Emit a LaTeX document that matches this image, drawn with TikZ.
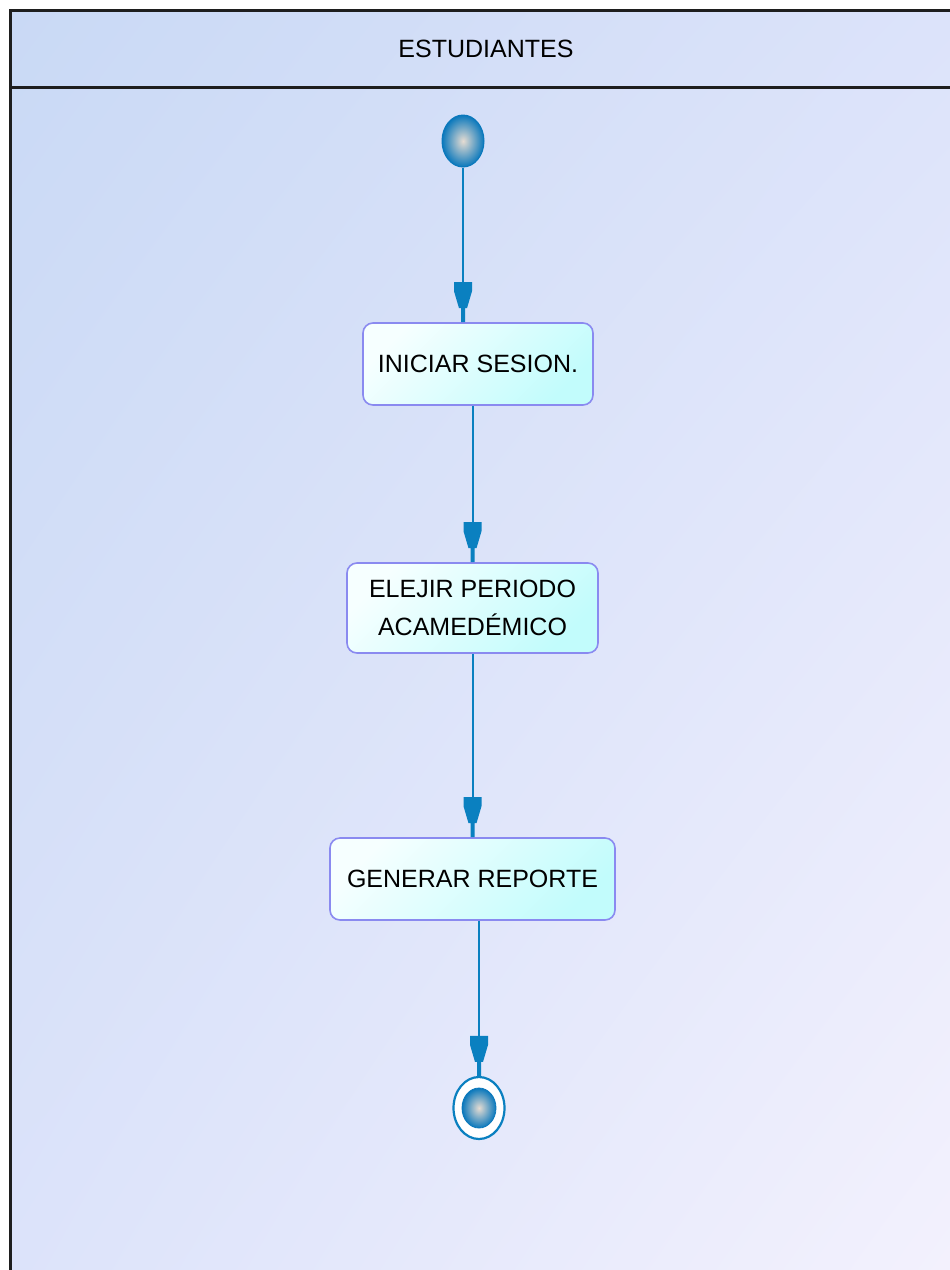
\documentclass[tikz,border=0pt]{standalone}
\usepackage{fontspec}
\setmainfont{Liberation Sans}
\usetikzlibrary{shapes.geometric,arrows.meta,shadings}
\definecolor{bgul}{HTML}{C9D9F5}
\definecolor{bgmid}{HTML}{DCE3FA}
\definecolor{bglr}{HTML}{F3F1FD}
\definecolor{framecol}{HTML}{1E1E1E}
\definecolor{arrowblue}{HTML}{0A80C0}
\definecolor{boxborder}{HTML}{8A8AF0}
\definecolor{boxlight}{HTML}{F6FFFF}
\definecolor{boxcyan}{HTML}{C2FCFC}
\definecolor{ballin}{HTML}{E6DCD2}
\definecolor{ballout}{HTML}{0A78BC}
\pgfdeclarearrow{
  name = Funnel,
  setup code = {
    \pgfarrowssettipend{0pt}
    \pgfarrowssetlineend{-30pt}
    \pgfarrowssetvisualbackend{-40pt}
    \pgfarrowssetbackend{-40pt}
    \pgfarrowsupperhullpoint{0pt}{2pt}
    \pgfarrowsupperhullpoint{-40pt}{9pt}
  },
  drawing code = {
    \pgfpathmoveto{\pgfqpoint{0pt}{-2pt}}
    \pgfpathlineto{\pgfqpoint{0pt}{2pt}}
    \pgfpathlineto{\pgfqpoint{-14pt}{2pt}}
    \pgfpathlineto{\pgfqpoint{-14pt}{4pt}}
    \pgfpathlineto{\pgfqpoint{-31pt}{9pt}}
    \pgfpathlineto{\pgfqpoint{-40pt}{9pt}}
    \pgfpathlineto{\pgfqpoint{-40pt}{-9pt}}
    \pgfpathlineto{\pgfqpoint{-31pt}{-9pt}}
    \pgfpathlineto{\pgfqpoint{-14pt}{-4pt}}
    \pgfpathlineto{\pgfqpoint{-14pt}{-2pt}}
    \pgfpathclose
    \pgfusepathqfill
  }
}
\tikzset{
  lbl/.style={font=\fontsize{25}{38.5}\selectfont, text=black, inner sep=0pt, align=center},
  actbox/.style={lbl, rectangle, rounded corners=10pt, draw=boxborder, line width=1.6pt,
    top color=boxlight, bottom color=boxcyan, shading angle=45},
  flow/.style={color=arrowblue, line width=2pt, -{Funnel}},
  startball/.style={ellipse, inner sep=0pt, minimum width=42pt, minimum height=52pt,
    inner color=ballin, outer color=ballout, draw=ballout, line width=1pt},
  endring/.style={ellipse, inner sep=0pt, minimum width=51pt, minimum height=62pt,
    fill=white, draw=arrowblue, line width=2.2pt},
  endball/.style={ellipse, inner sep=0pt, minimum width=34pt, minimum height=40pt,
    inner color=ballin, outer color=ballout, draw=ballout, line width=0.8pt},
}
\begin{document}
\begin{tikzpicture}[x=1pt,y=-1pt]
\useasboundingbox (0,0) rectangle (950,1270);
\clip (0,0) rectangle (950,1270);
\fill[white] (0,0) rectangle (950,1270);
\shade[upper left=bgul, upper right=bgmid, lower left=bgmid, lower right=bglr]
  (10.5,10.5) rectangle (950,1270);
\draw[framecol, line width=3.5pt] (10.5,1290) -- (10.5,10.5) -- (970,10.5);
\draw[framecol, line width=3pt] (10.5,87.5) -- (970,87.5);
\node[lbl] (lane) at (486,49) {ESTUDIANTES};

\node[startball] (s) at (463,141) {};
\node[actbox, minimum width=230pt, minimum height=82pt] (b1) at (478,364) {INICIAR SESION.};
\node[actbox, minimum width=251pt, minimum height=90pt] (b2) at (472.5,608) {ELEJIR PERIODO\\ACAMEDÉMICO};
\node[actbox, minimum width=285pt, minimum height=82pt] (b3) at (472.5,879) {GENERAR REPORTE};
\node[endring] (e) at (479,1108) {};
\node[endball] (ei) at (e.center) {};

\draw[flow] (s.south) -- (s.south |- b1.north);
\draw[flow] (b1.south -| b2.north) -- (b2.north);
\draw[flow] (b2.south) -- (b3.north);
\draw[flow] (b3.south -| e.north) -- (e.north);
\end{tikzpicture}
\end{document}
